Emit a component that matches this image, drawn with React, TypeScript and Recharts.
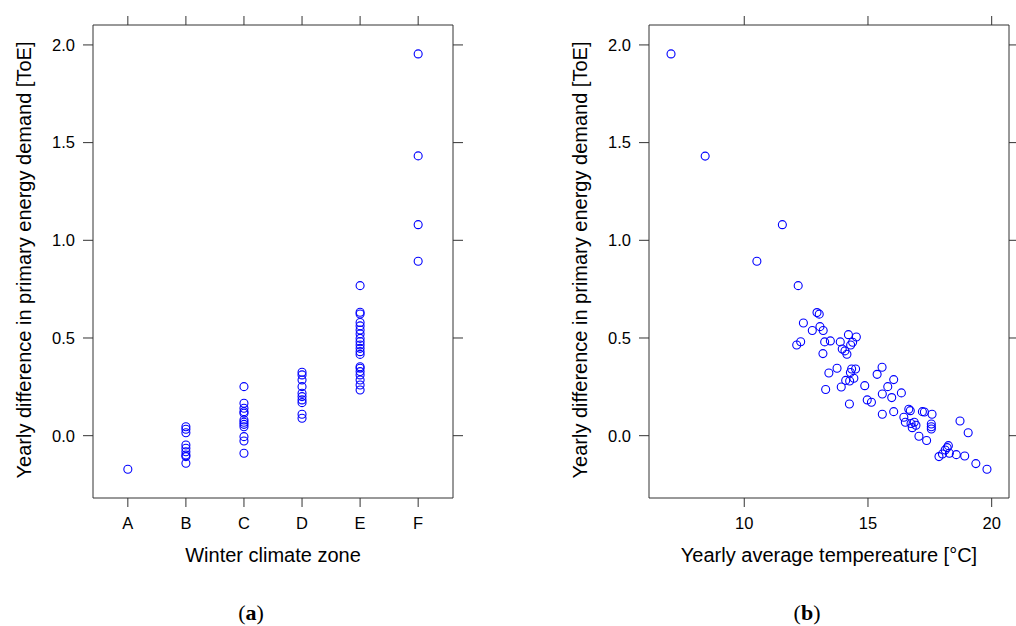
import React from 'react';
import { ScatterChart, Scatter, XAxis, YAxis } from 'recharts';

// ---- data ----
const zones = ['A', 'B', 'C', 'D', 'E', 'F'];
const zoneA = [-0.172];
const zoneB = [0.046, 0.033, 0.015, -0.048, -0.064, -0.082, -0.099, -0.107, -0.141];
const zoneC = [0.251, 0.166, 0.14, 0.123, 0.115, 0.08, 0.069, 0.058, 0.046, -0.005, -0.027, -0.09];
const zoneD = [0.325, 0.311, 0.285, 0.251, 0.217, 0.2, 0.183, 0.169, 0.11, 0.089];
const zoneE = [0.768, 0.632, 0.623, 0.579, 0.562, 0.541, 0.521, 0.498, 0.481, 0.464, 0.447, 0.43, 0.416, 0.353, 0.345, 0.328, 0.311, 0.285, 0.259, 0.234];
const zoneF = [1.954, 1.432, 1.08, 0.893];

const temperatures = [7.04, 8.42, 11.54, 10.51, 12.18, 12.94, 13.03, 12.39, 13.06, 13.19,
  12.75, 12.12, 12.28, 13.18, 13.25, 13.48, 13.88, 13.96, 14.07, 14.15,
  14.21, 14.3, 14.38, 14.53, 13.75, 13.42, 13.29, 13.92, 14.1, 14.26,
  14.29, 14.34, 14.43, 14.5, 14.25, 14.87, 14.97, 15.14, 15.37, 15.57,
  15.58, 15.58, 15.8, 15.96, 16.04, 16.04, 16.35, 16.45, 16.51, 16.65,
  16.71, 16.74, 16.79, 16.87, 16.94, 17.06, 17.2, 17.28, 17.37, 17.59,
  17.56, 17.56, 17.56, 17.87, 18.01, 18.12, 18.2, 18.25, 18.29, 18.57,
  18.72, 18.91, 19.05, 19.36, 19.81];
const demandDiff = [1.954, 1.431, 1.08, 0.893, 0.768, 0.63, 0.622, 0.577, 0.558, 0.538,
  0.538, 0.464, 0.481, 0.42, 0.48, 0.485, 0.48, 0.444, 0.434, 0.417,
  0.517, 0.464, 0.478, 0.505, 0.345, 0.321, 0.236, 0.249, 0.283, 0.28,
  0.323, 0.341, 0.294, 0.341, 0.162, 0.256, 0.183, 0.171, 0.314, 0.35,
  0.213, 0.11, 0.251, 0.195, 0.287, 0.123, 0.219, 0.094, 0.069, 0.135,
  0.128, 0.062, 0.041, 0.069, 0.053, -0.003, 0.123, 0.121, -0.025, 0.11,
  0.06, 0.046, 0.034, -0.107, -0.094, -0.073, -0.061, -0.051, -0.09, -0.097,
  0.075, -0.104, 0.015, -0.143, -0.172];

const yTicks = [0, 0.5, 1, 1.5, 2];
const tempTicks = [10, 15, 20];

const yTitle = 'Yearly difference in primary energy demand [ToE]';
const xTitleA = 'Winter climate zone';
const xTitleB = 'Yearly average tempereature [°C]';

// ---- derived tables ----
const zoneValues = [zoneA, zoneB, zoneC, zoneD, zoneE, zoneF];
const zoneData = zoneValues.flatMap((vals, i) => vals.map((v) => ({ x: i + 1, y: v })));
const tempData = temperatures.map((t, i) => ({ x: t, y: demandDiff[i] }));

const FONT = '"Liberation Sans", Arial, Helvetica, sans-serif';
const AXIS = '#333333';
const BLUE = '#0000ff';
const Y_DOMAIN: [number, number] = [-0.319, 2.102];

const tickStyle = { fill: '#000', fontSize: 16.5, fontFamily: FONT };
const emptyFmt = () => '';

const OpenCircle = (props: any) => {
  const { cx, cy } = props;
  if (cx == null || cy == null) return null;
  return <circle cx={cx} cy={cy} r={4} fill="none" stroke={BLUE} strokeWidth={1.1} />;
};

function Panel({ data, xDomain, xTicks, xFmt, left, width, yAxisWidth, marginRight }: any) {
  return (
    <div style={{ position: 'absolute', left, top: 0 }}>
      <ScatterChart
        width={width}
        height={626}
        margin={{ top: 24, right: marginRight, bottom: 68, left: 0 }}
      >
        <XAxis
          xAxisId="b"
          orientation="bottom"
          type="number"
          dataKey="x"
          domain={xDomain}
          ticks={xTicks}
          tickFormatter={xFmt}
          allowDataOverflow
          interval={0}
          height={60}
          tickSize={9}
          tickMargin={10}
          tick={tickStyle}
          axisLine={{ stroke: AXIS }}
          tickLine={{ stroke: AXIS }}
        />
        <XAxis
          xAxisId="t"
          orientation="top"
          type="number"
          dataKey="x"
          domain={xDomain}
          ticks={xTicks}
          tickFormatter={emptyFmt}
          allowDataOverflow
          interval={0}
          height={1}
          tickSize={9}
          tick={tickStyle}
          axisLine={{ stroke: AXIS }}
          tickLine={{ stroke: AXIS }}
        />
        <YAxis
          yAxisId="l"
          orientation="left"
          type="number"
          dataKey="y"
          domain={Y_DOMAIN}
          ticks={yTicks}
          tickFormatter={(v: number) => v.toFixed(1)}
          allowDataOverflow
          interval={0}
          width={yAxisWidth}
          tickSize={10}
          tickMargin={8}
          tick={tickStyle}
          axisLine={{ stroke: AXIS }}
          tickLine={{ stroke: AXIS }}
        />
        <YAxis
          yAxisId="r"
          orientation="right"
          type="number"
          dataKey="y"
          domain={Y_DOMAIN}
          ticks={yTicks}
          tickFormatter={emptyFmt}
          allowDataOverflow
          interval={0}
          width={1}
          tickSize={10}
          tick={tickStyle}
          axisLine={{ stroke: AXIS }}
          tickLine={{ stroke: AXIS }}
        />
        <Scatter
          data={data}
          xAxisId="b"
          yAxisId="l"
          shape={OpenCircle}
          isAnimationActive={false}
        />
        <Scatter
          data={data}
          xAxisId="t"
          yAxisId="r"
          shape={() => null}
          isAnimationActive={false}
        />
      </ScatterChart>
    </div>
  );
}

export default function App() {
  return (
    <div style={{ position: 'absolute', left: 0, top: 0, width: 1016, height: 626, background: '#fff' }}>
      <Panel
        data={zoneData}
        xDomain={[0.4, 6.6]}
        xTicks={[1, 2, 3, 4, 5, 6]}
        xFmt={(v: number) => zones[v - 1] ?? ''}
        left={0}
        width={480}
        yAxisWidth={93}
        marginRight={26}
      />
      <Panel
        data={tempData}
        xDomain={[6.15, 20.7]}
        xTicks={tempTicks}
        xFmt={(v: number) => String(v)}
        left={500}
        width={516}
        yAxisWidth={149}
        marginRight={6}
      />
      <svg
        width={1016}
        height={626}
        style={{ position: 'absolute', left: 0, top: 0, pointerEvents: 'none' }}
      >
        <g fontFamily={FONT} fontSize={20} fill="#000">
          <text x={31} y={260} textAnchor="middle" transform="rotate(-90 31 260)">{yTitle}</text>
          <text x={587} y={260} textAnchor="middle" transform="rotate(-90 587 260)">{yTitle}</text>
          <text x={273} y={562} textAnchor="middle">{xTitleA}</text>
          <text x={829} y={562} textAnchor="middle">{xTitleB}</text>
        </g>
        <g fontFamily='"Liberation Serif", "DejaVu Serif", serif' fontSize={22} fill="#000">
          <text x={251} y={620} textAnchor="middle">(<tspan fontWeight="bold">a</tspan>)</text>
          <text x={807} y={620} textAnchor="middle">(<tspan fontWeight="bold">b</tspan>)</text>
        </g>
      </svg>
    </div>
  );
}
